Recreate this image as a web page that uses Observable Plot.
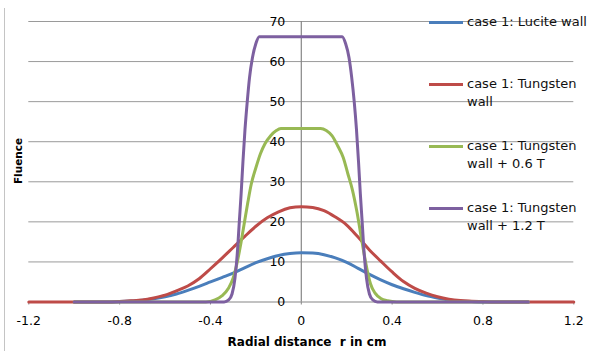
<!DOCTYPE html>
<html>
<head>
<meta charset="utf-8">
<script src="https://cdn.jsdelivr.net/npm/d3@7"></script>
<script src="https://cdn.jsdelivr.net/npm/@observablehq/plot@0.6"></script>
<style>
  body { margin: 0; background: #fff; }
  #wrap { position: relative; width: 609px; height: 351px; font-family: "DejaVu Sans", Verdana, sans-serif; overflow: hidden; color: #000; }
  #border { position: absolute; left: 4px; top: 8px; bottom: 0; border-left: 1.5px solid #c4c4c4; }
  #legend { position: absolute; left: 429px; top: 0; font-size: 13px; color: #111; }
  .entry { position: absolute; left: 0; white-space: nowrap; }
  .sw { position: absolute; left: 0; width: 34px; height: 3px; }
  .lbl { position: absolute; left: 38px; line-height: 18px; }
  .ytitle { position: absolute; left: 18px; top: 161px; transform: translate(-50%, -50%) rotate(-90deg); font-weight: bold; font-size: 10.5px; white-space: nowrap; }
  .xtitle { position: absolute; left: 307px; top: 342px; transform: translate(-50%, -50%); font-weight: bold; font-size: 12px; white-space: pre; }
</style>
</head>
<body>
<div id="wrap"></div>
<script>
// ---- data ----
const xTicks = [-1.2, -0.8, -0.4, 0, 0.4, 0.8, 1.2];
const xTickLabels = ["-1.2", "-0.8", "-0.4", "0", "0.4", "0.8", "1.2"];
const yTicks = [0, 10, 20, 30, 40, 50, 60, 70];
const yTickLabels = ["0", "10", "20", "30", "40", "50", "60", "70"];
const seriesNames = ["case 1: Lucite wall", "case 1: Tungsten wall", "case 1: Tungsten wall + 0.6 T", "case 1: Tungsten wall + 1.2 T"];
const legendLines = [["case 1: Lucite wall"], ["case 1: Tungsten", "wall"], ["case 1: Tungsten", "wall + 0.6 T"], ["case 1: Tungsten", "wall + 1.2 T"]];
const xLabel = "Radial distance  r in cm";
const yLabel = "Fluence";

const rLucite = [-1.0, -0.85, -0.8, -0.75, -0.7, -0.65, -0.6, -0.55, -0.5, -0.45, -0.4, -0.35, -0.3, -0.25, -0.2, -0.15, -0.1, -0.05, 0, 0.05, 0.1, 0.15, 0.2, 0.25, 0.3, 0.35, 0.4, 0.45, 0.5, 0.55, 0.6, 0.65, 0.7, 0.75, 0.8, 1.0];
const fLucite = [0, 0, 0.1, 0.25, 0.45, 0.8, 1.3, 2.0, 2.9, 3.9, 5.0, 6.1, 7.2, 8.5, 9.8, 10.8, 11.6, 12.1, 12.3, 12.2, 11.8, 11.0, 9.9, 8.4, 6.9, 5.5, 4.3, 3.3, 2.4, 1.6, 1.0, 0.5, 0.25, 0.1, 0, 0];

const rTungsten = [-1.2, -1.0, -0.85, -0.8, -0.75, -0.7, -0.65, -0.6, -0.55, -0.5, -0.45, -0.4, -0.35, -0.3, -0.25, -0.2, -0.15, -0.1, -0.05, 0, 0.05, 0.1, 0.15, 0.2, 0.25, 0.3, 0.35, 0.4, 0.45, 0.5, 0.55, 0.6, 0.65, 0.7, 0.75, 0.8, 0.85, 1.0, 1.2];
const fTungsten = [0, 0, 0, 0.15, 0.3, 0.5, 1.0, 1.7, 2.8, 4.0, 5.8, 8.3, 10.9, 13.6, 16.3, 18.9, 21.0, 22.5, 23.5, 23.8, 23.6, 22.8, 21.2, 19.2, 16.2, 13.0, 10.2, 7.5, 5.1, 3.4, 2.2, 1.3, 0.7, 0.35, 0.2, 0.1, 0, 0, 0];

const rT06 = [-1.0, -0.42, -0.38, -0.35, -0.32, -0.3, -0.28, -0.265, -0.25, -0.235, -0.22, -0.2, -0.18, -0.16, -0.135, -0.11, -0.09, 0.085, 0.11, 0.135, 0.16, 0.185, 0.205, 0.225, 0.245, 0.26, 0.275, 0.29, 0.305, 0.325, 0.35, 0.38, 0.42, 1.0];
const fT06 = [0, 0, 0.5, 1.5, 3.5, 6.0, 10.5, 15.0, 20.0, 25.0, 29.5, 33.5, 37.0, 39.5, 41.5, 42.8, 43.3, 43.3, 42.8, 41.5, 39.0, 36.0, 32.0, 28.0, 22.5, 17.5, 12.5, 8.0, 4.5, 2.2, 0.9, 0.3, 0, 0];

const rT12 = [-1.0, -0.34, -0.32, -0.305, -0.292, -0.282, -0.273, -0.265, -0.257, -0.248, -0.238, -0.228, -0.215, -0.2, -0.185, 0.18, 0.195, 0.21, 0.222, 0.233, 0.243, 0.252, 0.26, 0.268, 0.277, 0.287, 0.3, 0.315, 0.335, 1.0];
const fT12 = [0, 0, 0.5, 2.0, 6.0, 12.0, 20.0, 27.0, 35.0, 43.0, 50.0, 56.0, 61.0, 64.5, 66.2, 66.2, 64.5, 61.0, 56.0, 50.0, 43.0, 35.0, 27.0, 20.0, 12.0, 6.0, 2.0, 0.5, 0, 0];

// ---- styles ----
const colors = ["#4a7ebb", "#be4b48", "#98b954", "#7d60a0"];
const legendTops = [22, 84, 146, 208];

// ---- build table ----
const seriesR = [rLucite, rTungsten, rT06, rT12];
const seriesF = [fLucite, fTungsten, fT06, fT12];
const rows = [];
seriesNames.forEach((name, i) => {
  seriesR[i].forEach((r, j) => rows.push({series: name, r, f: seriesF[i][j]}));
});

const chart = Plot.plot({
  width: 609,
  height: 351,
  marginLeft: 28.3,
  marginRight: 35.7,
  marginTop: 21,
  marginBottom: 49.5,
  style: {fontFamily: "'DejaVu Sans', Verdana, sans-serif", fontSize: "12.5px", background: "transparent", color: "#000"},
  x: {type: "linear", domain: [xTicks[0], xTicks[xTicks.length - 1]], axis: null},
  y: {type: "linear", domain: [yTicks[0], yTicks[yTicks.length - 1]], axis: null},
  color: {domain: seriesNames, range: colors},
  marks: [
    Plot.ruleY(yTicks.slice(1), {stroke: "#9a9a9a", strokeWidth: 1}),
    Plot.ruleX([0], {y1: yTicks[0], y2: yTicks[yTicks.length - 1], stroke: "#868686", strokeWidth: 1.2}),
    Plot.ruleY([0], {stroke: "#868686", strokeWidth: 1.2}),
    Plot.ruleX(xTicks, {y1: 0, y2: 0, insetTop: 3, stroke: "#868686", strokeWidth: 1}),
    Plot.text(xTicks, {x: d => d, y: () => 0, text: (d, i) => xTickLabels[i], dy: 19, fontSize: 12.5}),
    Plot.text(yTicks, {x: () => 0, y: d => d, text: (d, i) => yTickLabels[i], textAnchor: "end", dx: -16, fontSize: 12.5}),
    Plot.line(rows, {x: "r", y: "f", z: "series", stroke: "series", strokeWidth: 3, curve: "monotone-x"})
  ]
});

const wrap = document.getElementById("wrap");
wrap.appendChild(chart);
chart.style.position = "absolute";
chart.style.left = "0";
chart.style.top = "0";

const border = document.createElement("div");
border.id = "border";
wrap.appendChild(border);

const yt = document.createElement("div");
yt.className = "ytitle";
yt.textContent = yLabel;
wrap.appendChild(yt);

const xt = document.createElement("div");
xt.className = "xtitle";
xt.textContent = xLabel;
wrap.appendChild(xt);

const legend = document.createElement("div");
legend.id = "legend";
legendLines.forEach((lines, i) => {
  const e = document.createElement("div");
  e.className = "entry";
  e.style.top = (legendTops[i] - 9) + "px";
  const sw = document.createElement("div");
  sw.className = "sw";
  sw.style.background = colors[i];
  sw.style.top = "7.5px";
  e.appendChild(sw);
  const l = document.createElement("div");
  l.className = "lbl";
  l.innerHTML = lines.join("<br>");
  e.appendChild(l);
  legend.appendChild(e);
});
wrap.appendChild(legend);
</script>
</body>
</html>
